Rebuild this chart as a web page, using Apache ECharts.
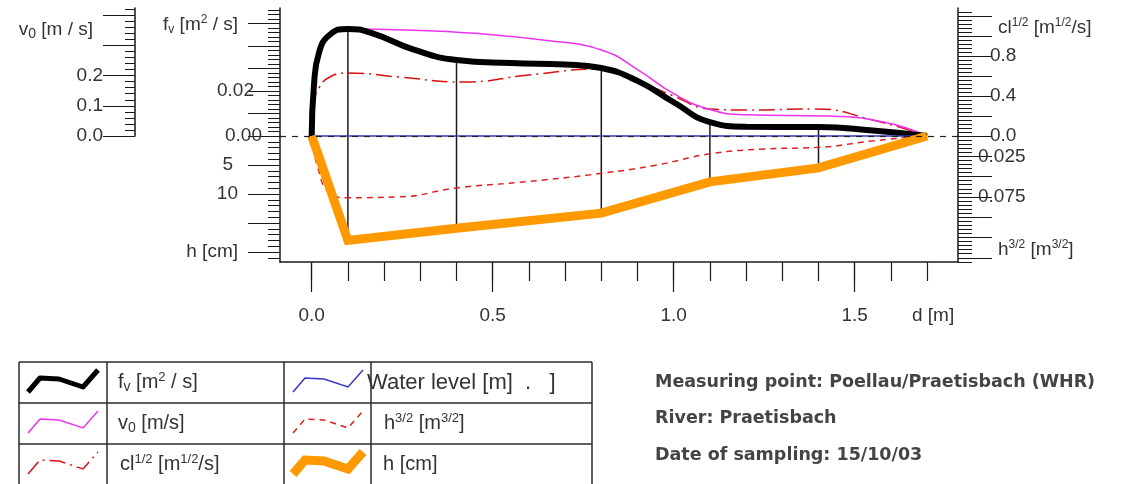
<!DOCTYPE html>
<html>
<head>
<meta charset="utf-8">
<script src="https://cdn.jsdelivr.net/npm/echarts@6/dist/echarts.min.js"></script>
<style>
  html, body { margin: 0; padding: 0; background: #fff; }
  #chart { width: 1126px; height: 484px; }
</style>
</head>
<body>
<div id="chart"></div>
<script>
// ---- Cross-section data (distance d across the stream in metres) ----
const verticalD   = [0, 0.1, 0.4, 0.8, 1.1, 1.4, 1.7];
const depthCm     = [0, 18.0, 15.9, 13.3, 7.9, 5.5, 0];
const fvAtVertical = [0, 0.0476, 0.0338, 0.0302, 0.0062, 0.0040, 0];

// specific discharge f_v [m²/s]
const fvProfile = [
  [0, 0], [0.006, 0.022], [0.02, 0.037], [0.05, 0.0450],
  [0.1, 0.0476], [0.17, 0.0455], [0.28, 0.0385], [0.4, 0.0338],
  [0.55, 0.0324], [0.7, 0.0318], [0.8, 0.0302],
  [0.9, 0.0245], [1.0, 0.0150], [1.1, 0.0062], [1.2, 0.0041],
  [1.4, 0.0040], [1.55, 0.0024], [1.7, 0]
];
// surface velocity v_0 [m/s]
const v0Profile = [
  [0, 0], [0.006, 0.15], [0.02, 0.26], [0.05, 0.33],
  [0.1, 0.354], [0.26, 0.351], [0.45, 0.340], [0.65, 0.316],
  [0.8, 0.285], [0.9, 0.22], [1.0, 0.14], [1.1, 0.088],
  [1.2, 0.070], [1.43, 0.066], [1.58, 0.046], [1.7, 0]
];
// cl^(1/2) [m^(1/2)/s]
const clProfile = [
  [0, 0], [0.006, 0.33], [0.02, 0.48], [0.05, 0.59],
  [0.1, 0.63], [0.24, 0.59], [0.42, 0.54], [0.6, 0.61],
  [0.8, 0.67], [0.9, 0.55], [1.0, 0.40], [1.1, 0.27],
  [1.2, 0.26], [1.39, 0.27], [1.55, 0.16], [1.7, 0]
];
// h^(3/2) [m^(3/2)]
const h32Profile = [
  [0, 0], [0.015, 0.036], [0.05, 0.070], [0.1, 0.076],
  [0.24, 0.075], [0.4, 0.064], [0.6, 0.056], [0.8, 0.046],
  [0.95, 0.036], [1.1, 0.022], [1.25, 0.016], [1.4, 0.014],
  [1.55, 0.006], [1.7, 0]
];
const waterLevel = [[0, 0], [1.7, 0]];

// ---- Axis ticks and labels ----
const xMinorTicks = [0, 0.1, 0.2, 0.3, 0.4, 0.5, 0.6, 0.7, 0.8, 0.9, 1.0, 1.1, 1.2, 1.3, 1.4, 1.5, 1.6, 1.7];
const xMajorTicks = [0, 0.5, 1.0, 1.5];
const xLabelValues = [0, 0.5, 1.0, 1.5, 1.7];
const xLabelTexts  = ['0.0', '0.5', '1.0', '1.5', 'd [m]'];

const fvTicks  = [0, 0.01, 0.02, 0.03, 0.04, 0.05];
const fvLabelValues = [0, 0.02, 0.0493];
const v0Ticks  = [0, 0.1, 0.2, 0.3, 0.4];
const v0LabelValues = [0, 0.1, 0.2, 0.351];
const clTicks  = [0, 0.2, 0.4, 0.6, 0.8, 1.0, 1.2];
const clLabelValues = [0, 0.4, 0.8, 1.08];
const hTicks   = [0, 5, 10, 15, 20];
const hLabelValues = [5, 10, 20];
const h32Ticks = [0, 0.025, 0.05, 0.075, 0.1, 0.125, 0.15];
const h32LabelValues = [0.025, 0.075, 0.1404];

// axis extents
const X_MIN = -0.0876, X_MAX = 1.7854;
const FV_MAX = 0.0569, V0_MAX = 0.4238, CL_MAX = 1.28, H_MAX = 21.72, H32_MAX = 0.1552;

const FONT = '"Liberation Sans", Arial, sans-serif';
const INK = '#1a1a1a';
const TXT = '#333';

const supSub = {
  sup: { fontSize: 12, lineHeight: 12, verticalAlign: 'top' },
  sub: { fontSize: 12, lineHeight: 8, verticalAlign: 'bottom' }
};

function yAxis(opt) {
  return Object.assign({
    type: 'value',
    axisLine: { show: true, onZero: false, lineStyle: { color: INK, width: 1.5 } },
    axisTick: { show: true, length: 32, lineStyle: { color: INK, width: 1 } },
    minorTick: { show: true, splitNumber: 5, length: 12, lineStyle: { color: INK, width: 1 } },
    splitLine: { show: false },
    minorSplitLine: { show: false }
  }, opt);
}

function labelStyle(extra) {
  return Object.assign({
    show: true, color: TXT, fontFamily: FONT, fontSize: 19, lineHeight: 22,
    rich: Object.assign({
      n: { fontSize: 19, lineHeight: 22 }
    }, supSub)
  }, extra);
}

function verticalSegment(params, api) {
  const a = api.coord([api.value(0), 0]);
  const b = api.coord([api.value(0), api.value(1)]);
  return {
    type: 'line',
    shape: { x1: a[0], y1: a[1], x2: b[0], y2: b[1] },
    style: { stroke: '#1a1a1a', lineWidth: 1.5 }
  };
}

const chart = echarts.init(document.getElementById('chart'), null, { renderer: 'canvas' });

const gridTop = 8, zeroY = 136, gridBottomY = 262, axisLeft = 280, axisRight = 958;

const option = {
  animation: false,
  backgroundColor: '#fff',
  grid: [
    { left: axisLeft, right: 1126 - axisRight, top: gridTop, height: zeroY - gridTop, containLabel: false },
    { left: axisLeft, right: 1126 - axisRight, top: zeroY, height: gridBottomY - zeroY, containLabel: false },
    { left: axisLeft, right: 1126 - axisRight, top: zeroY, height: gridBottomY - zeroY, containLabel: false }
  ],
  xAxis: [
    { gridIndex: 0, type: 'value', min: X_MIN, max: X_MAX, show: false },
    {
      gridIndex: 1, type: 'value', min: X_MIN, max: X_MAX,
      axisLine: { show: true, onZero: false, lineStyle: { color: INK, width: 1.5 } },
      axisTick: { show: true, length: 19, customValues: xMinorTicks, lineStyle: { color: INK, width: 1.2 } },
      axisLabel: { show: false },
      splitLine: { show: false }
    },
    {
      gridIndex: 2, type: 'value', min: X_MIN, max: X_MAX,
      axisLine: { show: false, onZero: false },
      axisTick: { show: true, length: 30, customValues: xMajorTicks, lineStyle: { color: INK, width: 1.2 } },
      axisLabel: labelStyle({
        customValues: xLabelValues, margin: 43,
        formatter: v => {
          const i = xLabelValues.findIndex(x => Math.abs(x - v) < 1e-9);
          return i === xLabelValues.length - 1 ? '{d|' + xLabelTexts[i] + '}' : xLabelTexts[i];
        },
        rich: { d: { fontSize: 19, padding: [0, 0, 0, 12] } }
      }),
      splitLine: { show: false }
    }
  ],
  yAxis: [
    // 0: f_v (upper left)
    yAxis({
      gridIndex: 0, position: 'left', min: 0, max: FV_MAX, interval: 0.01,
      axisTick: { show: true, length: 32, customValues: fvTicks, lineStyle: { color: INK } },
      axisLabel: labelStyle({
        customValues: fvLabelValues, margin: 18,
        formatter: v => v === 0 ? '0.00' : v === 0.02 ? '{p8|0.02}'
          : '{n|f}{sub|v}{n| [m}{sup|2}{p24| / s]}',
        rich: Object.assign({
          n: { fontSize: 19 }, p8: { fontSize: 19, padding: [0, 8, 0, 0] },
          p24: { fontSize: 19, padding: [0, 24, 0, 0] }
        }, supSub)
      })
    }),
    // 1: v_0 (outer left)
    yAxis({
      gridIndex: 0, position: 'left', offset: axisLeft - 135, min: 0, max: V0_MAX, interval: 0.1,
      axisTick: { show: true, length: 32, customValues: v0Ticks, lineStyle: { color: INK } },
      minorTick: { show: true, splitNumber: 5, length: 10, lineStyle: { color: INK } },
      axisLabel: labelStyle({
        customValues: v0LabelValues, margin: 32,
        formatter: v => v < 0.3 ? v.toFixed(1) : '{n|v}{sub|0}{p10| [m / s]}',
        rich: Object.assign({
          n: { fontSize: 19 }, p10: { fontSize: 19, padding: [0, 10, 0, 0] }
        }, supSub, { sub: { fontSize: 14, lineHeight: 8, verticalAlign: 'bottom' } })
      })
    }),
    // 2: cl^(1/2) (upper right)
    yAxis({
      gridIndex: 0, position: 'right', min: 0, max: CL_MAX, interval: 0.2,
      axisTick: { show: true, length: 34, customValues: clTicks, lineStyle: { color: INK } },
      minorTick: { show: true, splitNumber: 5, length: 14, lineStyle: { color: INK } },
      axisLabel: labelStyle({
        customValues: clLabelValues, margin: 32,
        formatter: v => v < 1 ? v.toFixed(1) : '{q8|cl}{sup|1/2}{n| [m}{sup|1/2}{n|/s]}',
        rich: Object.assign({
          n: { fontSize: 19 }, q8: { fontSize: 19, padding: [0, 0, 0, 8] }
        }, supSub)
      })
    }),
    // 3: h [cm] (lower left, downward)
    yAxis({
      gridIndex: 1, position: 'left', inverse: true, min: 0, max: H_MAX, interval: 5,
      axisTick: { show: true, length: 32, customValues: hTicks, lineStyle: { color: INK } },
      axisLabel: labelStyle({
        customValues: hLabelValues, margin: 42,
        formatter: v => v === 5 ? '{p5|5}' : v === 10 ? '10' : 'h [cm]',
        rich: { p5: { fontSize: 19, padding: [0, 5, 0, 0] } }
      })
    }),
    // 4: h^(3/2) (lower right, downward)
    yAxis({
      gridIndex: 1, position: 'right', inverse: true, min: 0, max: H32_MAX, interval: 0.025,
      axisTick: { show: true, length: 34, customValues: h32Ticks, lineStyle: { color: INK } },
      minorTick: { show: true, splitNumber: 5, length: 14, lineStyle: { color: INK } },
      axisLabel: labelStyle({
        customValues: h32LabelValues, margin: 20,
        formatter: v => v < 0.1 ? v.toFixed(3) : '{q20|h}{sup|3/2}{n| [m}{sup|3/2}{n|]}',
        rich: Object.assign({
          n: { fontSize: 19 }, q20: { fontSize: 19, padding: [0, 0, 0, 20] }
        }, supSub)
      })
    }),
    // 5: helper for the labelled tick row
    { gridIndex: 2, type: 'value', min: 0, max: 1, show: false }
  ],
  series: [
    // zero reference (dashed) across the whole plot
    {
      name: 'zero', type: 'line', xAxisIndex: 0, yAxisIndex: 0, data: [], silent: true,
      markLine: {
        silent: true, symbol: 'none', label: { show: false },
        lineStyle: { color: '#222', type: [6, 6], width: 1.2 },
        data: [{ yAxis: 0 }]
      }
    },
    // measuring verticals: surface part (up to f_v) and depth part (down to h)
    {
      type: 'custom', xAxisIndex: 0, yAxisIndex: 0, silent: true, clip: false,
      data: verticalD.slice(1, -1).map((d, i) => [d, fvAtVertical[i + 1]]),
      renderItem: verticalSegment
    },
    {
      type: 'custom', xAxisIndex: 1, yAxisIndex: 3, silent: true, clip: false,
      data: verticalD.slice(1, -1).map((d, i) => [d, depthCm[i + 1]]),
      renderItem: verticalSegment
    },
    {
      name: 'h^(3/2)', type: 'line', xAxisIndex: 1, yAxisIndex: 4, data: h32Profile,
      smooth: 0.5, showSymbol: false, clip: false,
      lineStyle: { color: '#dd2020', width: 1.5, type: [6, 5] }
    },
    {
      name: 'cl^(1/2)', type: 'line', xAxisIndex: 0, yAxisIndex: 2, data: clProfile,
      smooth: 0.5, showSymbol: false, clip: false,
      lineStyle: { color: '#d81010', width: 1.5, type: [16, 5, 2, 5] }
    },
    {
      name: 'v0', type: 'line', xAxisIndex: 0, yAxisIndex: 1, data: v0Profile,
      smooth: 0.5, showSymbol: false, clip: false,
      lineStyle: { color: '#ee33ee', width: 1.5 }
    },
    {
      name: 'fv', type: 'line', xAxisIndex: 0, yAxisIndex: 0, data: fvProfile,
      smooth: 0.5, showSymbol: false, clip: false,
      lineStyle: { color: '#000', width: 6 }
    },
    {
      name: 'Water level', type: 'line', xAxisIndex: 0, yAxisIndex: 0, data: waterLevel,
      showSymbol: false, clip: false,
      lineStyle: { color: '#3535c8', width: 1.5 }
    },
    {
      name: 'h', type: 'line', xAxisIndex: 1, yAxisIndex: 3,
      data: verticalD.map((d, i) => [d, depthCm[i]]),
      showSymbol: false, clip: false,
      lineStyle: { color: '#ff9900', width: 9, join: 'miter' }
    }
  ],
  graphic: buildLegendAndInfo()
};

function buildLegendAndInfo() {
  const els = [];
  const stroke = { stroke: '#2a2a2a', lineWidth: 1.5 };
  const top = 362, rowH = 41, left = 19, right = 592;
  const cols = [107, 284, 371];
  const bottom = 500;
  // table frame
  els.push({ type: 'line', shape: { x1: left, y1: top, x2: right, y2: top }, style: stroke });
  for (let r = 1; r <= 2; r++) {
    els.push({ type: 'line', shape: { x1: left, y1: top + r * rowH, x2: right, y2: top + r * rowH }, style: stroke });
  }
  [left].concat(cols, [right]).forEach(x => {
    els.push({ type: 'line', shape: { x1: x, y1: top, x2: x, y2: bottom }, style: stroke });
  });
  // legend samples (same zig-zag shape in each cell)
  const tpl = [[9, 30], [21, 16], [40, 17], [64, 25], [79, 8]];
  const samples = [
    { col: 19,  row: 0, style: { stroke: '#000', lineWidth: 5, lineJoin: 'round' } },
    { col: 19,  row: 1, style: { stroke: '#ee33ee', lineWidth: 1.5 } },
    { col: 19,  row: 2, style: { stroke: '#d81010', lineWidth: 1.5, lineDash: [16, 5, 2, 5] } },
    { col: 284, row: 0, style: { stroke: '#3535c8', lineWidth: 1.5 } },
    { col: 284, row: 1, style: { stroke: '#dd2020', lineWidth: 1.5, lineDash: [6, 5] } },
    { col: 284, row: 2, style: { stroke: '#ff9900', lineWidth: 9 } }
  ];
  samples.forEach(s => {
    const y0 = top + s.row * rowH;
    els.push({
      type: 'polyline', silent: true,
      shape: { points: tpl.map(p => [s.col + p[0], y0 + p[1]]) },
      style: Object.assign({ fill: null }, s.style)
    });
  });
  const rich = {
    n: { fontSize: 20, lineHeight: 24, fontFamily: FONT, fill: TXT },
    sup: { fontSize: 13, lineHeight: 12, verticalAlign: 'top', fontFamily: FONT, fill: TXT },
    sub: { fontSize: 14, lineHeight: 8, verticalAlign: 'bottom', fontFamily: FONT, fill: TXT }
  };
  const legendTexts = [
    { x: 118, row: 0, text: '{n|f}{sub|v}{n| [m}{sup|2}{n| / s]}' },
    { x: 118, row: 1, text: '{n|v}{sub|0}{n| [m/s]}' },
    { x: 120, row: 2, text: '{n|cl}{sup|1/2}{n| [m}{sup|1/2}{n|/s]}' },
    { x: 384, row: 1, text: '{n|h}{sup|3/2}{n| [m}{sup|3/2}{n|]}' },
    { x: 383, row: 2, text: '{n|h [cm]}' }
  ];
  legendTexts.forEach(t => {
    els.push({
      type: 'text', silent: true, x: t.x, y: top + t.row * rowH + rowH / 2,
      style: { text: t.text, rich: rich, fill: TXT, font: '20px ' + FONT, verticalAlign: 'middle', align: 'left' }
    });
  });
  els.push({
    type: 'text', silent: true, x: 367, y: top + rowH / 2,
    style: { text: 'Water level [m]  .   ]', fill: '#333', font: '22px ' + FONT, verticalAlign: 'middle', align: 'left' }
  });
  // station info
  const info = ['Measuring point: Poellau/Praetisbach (WHR)', 'River: Praetisbach', 'Date of sampling: 15/10/03'];
  const infoY = [382, 418, 455];
  info.forEach((s, i) => {
    els.push({
      type: 'text', silent: true, x: 655, y: infoY[i],
      style: { text: s, fill: '#444', font: 'bold 17.5px "DejaVu Sans", sans-serif', verticalAlign: 'middle', align: 'left' }
    });
  });
  return els;
}

chart.setOption(option);
</script>
</body>
</html>
